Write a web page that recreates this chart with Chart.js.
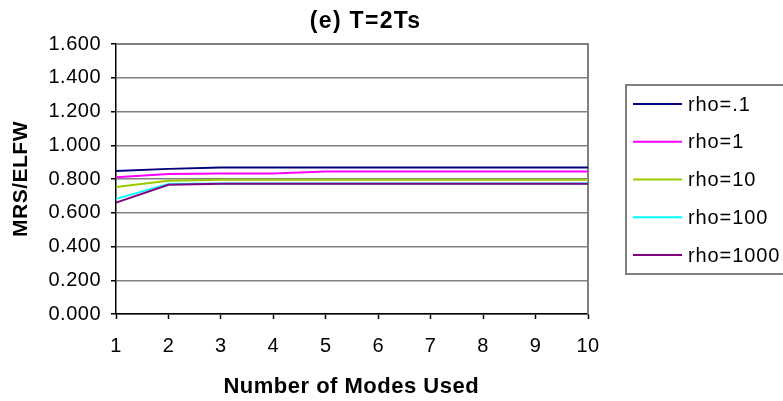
<!DOCTYPE html>
<html>
<head>
<meta charset="utf-8">
<script src="https://cdn.jsdelivr.net/npm/chart.js@4/dist/chart.umd.min.js"></script>
<style>
  html, body { margin: 0; padding: 0; background: #fff; }
  #wrap { width: 783px; height: 401px; }
</style>
</head>
<body>
<div id="wrap"><canvas id="c" width="783" height="401"></canvas></div>
<script>
// ---- data ----
const modes = ['1', '2', '3', '4', '5', '6', '7', '8', '9', '10'];
const rho01   = [0.847, 0.860, 0.868, 0.868, 0.868, 0.868, 0.868, 0.868, 0.868, 0.868];
const rho1    = [0.811, 0.830, 0.832, 0.832, 0.845, 0.845, 0.845, 0.845, 0.845, 0.845];
const rho10   = [0.753, 0.790, 0.796, 0.796, 0.796, 0.796, 0.796, 0.796, 0.796, 0.796];
const rho100  = [0.682, 0.771, 0.773, 0.773, 0.773, 0.773, 0.773, 0.773, 0.773, 0.773];
const rho1000 = [0.660, 0.766, 0.772, 0.772, 0.772, 0.772, 0.772, 0.772, 0.772, 0.772];
const seriesNames = ['rho=.1', 'rho=1', 'rho=10', 'rho=100', 'rho=1000'];
const seriesColors = ['#000080', '#FF00FF', '#99CC00', '#00FFFF', '#800080'];
const chartTitle = '(e) T=2Ts';
const xTitle = 'Number of Modes Used';
const yTitle = 'MRS/ELFW';

const FONT = "'Liberation Sans', Arial, sans-serif";
const allSeries = [rho01, rho1, rho10, rho100, rho1000];

const datasets = allSeries.map((d, i) => ({
  label: seriesNames[i],
  data: d,
  borderColor: seriesColors[i],
  backgroundColor: seriesColors[i],
  borderWidth: 2,
  pointRadius: 0,
  tension: 0,
  fill: false,
  order: allSeries.length - i
}));

function spacedText(ctx, text, x, y, spacing, align) {
  ctx.letterSpacing = spacing + 'px';
  const w = ctx.measureText(text).width - spacing;
  let sx = x;
  if (align === 'center') sx = x - w / 2;
  ctx.textAlign = 'left';
  ctx.fillText(text, sx, y);
  ctx.letterSpacing = '0px';
}

const decor = {
  id: 'decor',
  beforeDraw(chart) {
    chart.ctx.letterSpacing = '0.5px';
  },
  beforeDatasetsDraw(chart) {
    const {ctx, chartArea: a} = chart;
    ctx.save();
    ctx.strokeStyle = '#808080';
    ctx.lineWidth = 2;
    ctx.beginPath();
    ctx.moveTo(a.left, a.top);
    ctx.lineTo(a.right, a.top);
    ctx.lineTo(a.right, a.bottom);
    ctx.stroke();
    ctx.restore();
  },
  afterDraw(chart) {
    const ctx = chart.ctx;
    ctx.save();
    ctx.fillStyle = '#000';
    ctx.textBaseline = 'middle';
    // chart title
    ctx.font = "bold 23px " + FONT;
    spacedText(ctx, chartTitle, 365, 22, 1.3, 'center');
    // x axis title
    ctx.font = "bold 22px " + FONT;
    spacedText(ctx, xTitle, 351, 387, 0.5, 'center');
    // legend
    const top = 85, left = 626, step = 37.75, first = 104;
    ctx.strokeStyle = '#808080';
    ctx.lineWidth = 2;
    ctx.strokeRect(left, top, 200, 189);
    ctx.font = "20px " + FONT;
    seriesNames.forEach((n, i) => {
      const y = first + i * step;
      ctx.strokeStyle = seriesColors[i];
      ctx.lineWidth = 2;
      ctx.beginPath();
      ctx.moveTo(633, y);
      ctx.lineTo(682, y);
      ctx.stroke();
      ctx.fillStyle = '#000';
      spacedText(ctx, n, 688, y + 1, 0.9, 'left');
    });
    ctx.restore();
  }
};

new Chart(document.getElementById('c'), {
  type: 'line',
  data: { labels: modes, datasets },
  options: {
    responsive: false,
    animation: false,
    layout: { padding: { top: 44, right: 195, left: 0, bottom: 0 } },
    plugins: { legend: { display: false }, title: { display: false }, tooltip: { enabled: false } },
    scales: {
      x: {
        type: 'category',
        offset: false,
        afterFit(s) { s.height = 87; },
        grid: { drawOnChartArea: false, drawTicks: true, tickLength: 5, tickColor: '#000', tickWidth: 1.5 },
        border: { color: '#000', width: 1.5 },
        ticks: { color: '#000', font: { family: FONT, size: 20 }, padding: 15, maxRotation: 0, autoSkip: false },
        title: { display: false, text: xTitle }
      },
      y: {
        min: 0, max: 1.6,
        afterFit(s) { s.width = 116; },
        grid: { color: '#808080', lineWidth: 1.5, drawTicks: true, tickLength: 5, tickColor: '#000', tickWidth: 1.5 },
        border: { color: '#000', width: 1.5 },
        ticks: { stepSize: 0.2, color: '#000', font: { family: FONT, size: 20 }, padding: 10,
                 callback: v => Number(v).toFixed(3) },
        title: { display: true, text: yTitle, color: '#000', font: { family: FONT, size: 21, weight: 'bold' }, padding: { top: 9, bottom: 0 } }
      }
    }
  },
  plugins: [decor]
});
</script>
</body>
</html>
